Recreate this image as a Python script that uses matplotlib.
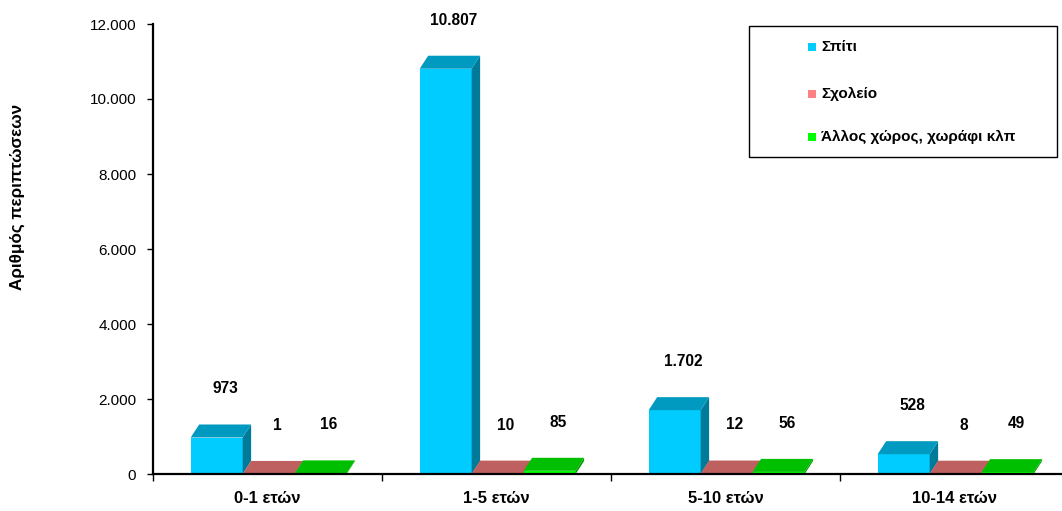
import matplotlib
matplotlib.use("Agg")
import matplotlib.pyplot as plt
from matplotlib.patches import Polygon, Rectangle
from matplotlib.colors import to_rgb

# ---- data ----
categories = ["0-1 ετών", "1-5 ετών", "5-10 ετών", "10-14 ετών"]
series_names = ["Σπίτι", "Σχολείο", "Άλλος χώρος, χωράφι κλπ"]
spiti = [973, 10807, 1702, 528]
sxoleio = [1, 10, 12, 8]
allos = [16, 85, 56, 49]
yticks = [0, 2000, 4000, 6000, 8000, 10000, 12000]
ytick_labels = ["0", "2.000", "4.000", "6.000", "8.000", "10.000", "12.000"]
y_label = "Αριθμός περιπτώσεων"

series_values = [spiti, sxoleio, allos]
colors = ["#00CCFF", "#FF8080", "#00FF00"]

plt.rcParams["font.family"] = ["Liberation Sans", "DejaVu Sans"]

W_PX, H_PX = 1062, 511
fig = plt.figure(figsize=(W_PX / 100, H_PX / 100), dpi=100)
ax = fig.add_axes([153 / W_PX, 37 / H_PX, (1069 - 153) / W_PX, 450 / H_PX])

ax.set_xlim(0, 4)
ax.set_ylim(0, 12000)

bar_w = 0.227
depth_x = 0.037
depth_y = 347
shift = 0.005


def shade(c, f):
    r, g, b = to_rgb(c)
    return (r * f, g * f, b * f)


for j in range(len(categories)):
    for i, vals in enumerate(series_values):
        v = vals[j]
        c = colors[i]
        xl = j + 0.5 + (i - 1) * bar_w - bar_w / 2 + shift
        xr = xl + bar_w
        # front face
        ax.bar(xl, v, width=bar_w, align="edge", color=c, linewidth=0, zorder=3)
        # side face
        side = Polygon([(xr, 0), (xr + depth_x, depth_y), (xr + depth_x, v + depth_y), (xr, v)],
                       closed=True, facecolor=shade(c, 0.6), edgecolor="none", zorder=3)
        ax.add_patch(side)
        # top face
        top = Polygon([(xl, v), (xr, v), (xr + depth_x, v + depth_y), (xl + depth_x, v + depth_y)],
                      closed=True, facecolor=shade(c, 0.75), edgecolor="none", zorder=3)
        ax.add_patch(top)
        # value label
        lab = f"{v:,}".replace(",", ".")
        ax.annotate(lab, xy=((xl + xr) / 2, v), xytext=(6, 35), textcoords="offset points",
                    ha="center", va="center", fontsize=11.2, fontweight="bold",
                    color="black", zorder=5, annotation_clip=False)

# ---- axes styling ----
for s in ["top", "right"]:
    ax.spines[s].set_visible(False)
for s in ["left", "bottom"]:
    ax.spines[s].set_linewidth(1.6)
    ax.spines[s].set_color("black")
    ax.spines[s].set_zorder(6)

ax.set_yticks(yticks)
ax.set_yticklabels(ytick_labels, fontsize=11)
ax.tick_params(axis="y", direction="out", length=4, width=1, pad=8, colors="black")

ax.set_xticks([0, 1, 2, 3, 4])
ax.set_xticklabels([])
ax.tick_params(axis="x", which="major", direction="out", length=5, width=1)
ax.set_xticks([0.5, 1.5, 2.5, 3.5], minor=True)
ax.set_xticklabels(categories, minor=True, fontsize=12, fontweight="bold")
ax.tick_params(axis="x", which="minor", length=0, pad=12)

fig.text(17 / W_PX, 1 - 197 / H_PX, y_label, rotation=90, ha="center", va="center",
         fontsize=12.3, fontweight="bold")

# ---- legend (manual box) ----
lx0, ly0, lx1, ly1 = 749, 26, 1057, 157
fig.patches.append(Rectangle((lx0 / W_PX, 1 - ly1 / H_PX), (lx1 - lx0) / W_PX, (ly1 - ly0) / H_PX,
                             transform=fig.transFigure, facecolor="white", edgecolor="black",
                             linewidth=1.0, zorder=10))
entry_y = [47, 94, 137]
for name, c, yy in zip(series_names, colors, entry_y):
    fig.patches.append(Rectangle((808 / W_PX, 1 - (yy + 4) / H_PX), 8 / W_PX, 8 / H_PX,
                                 transform=fig.transFigure, facecolor=c, edgecolor="none", zorder=11))
    fig.text(821 / W_PX, 1 - yy / H_PX, name, ha="left", va="center",
             fontsize=11, fontweight="bold", zorder=12)

fig.savefig("out.png", dpi=100)
